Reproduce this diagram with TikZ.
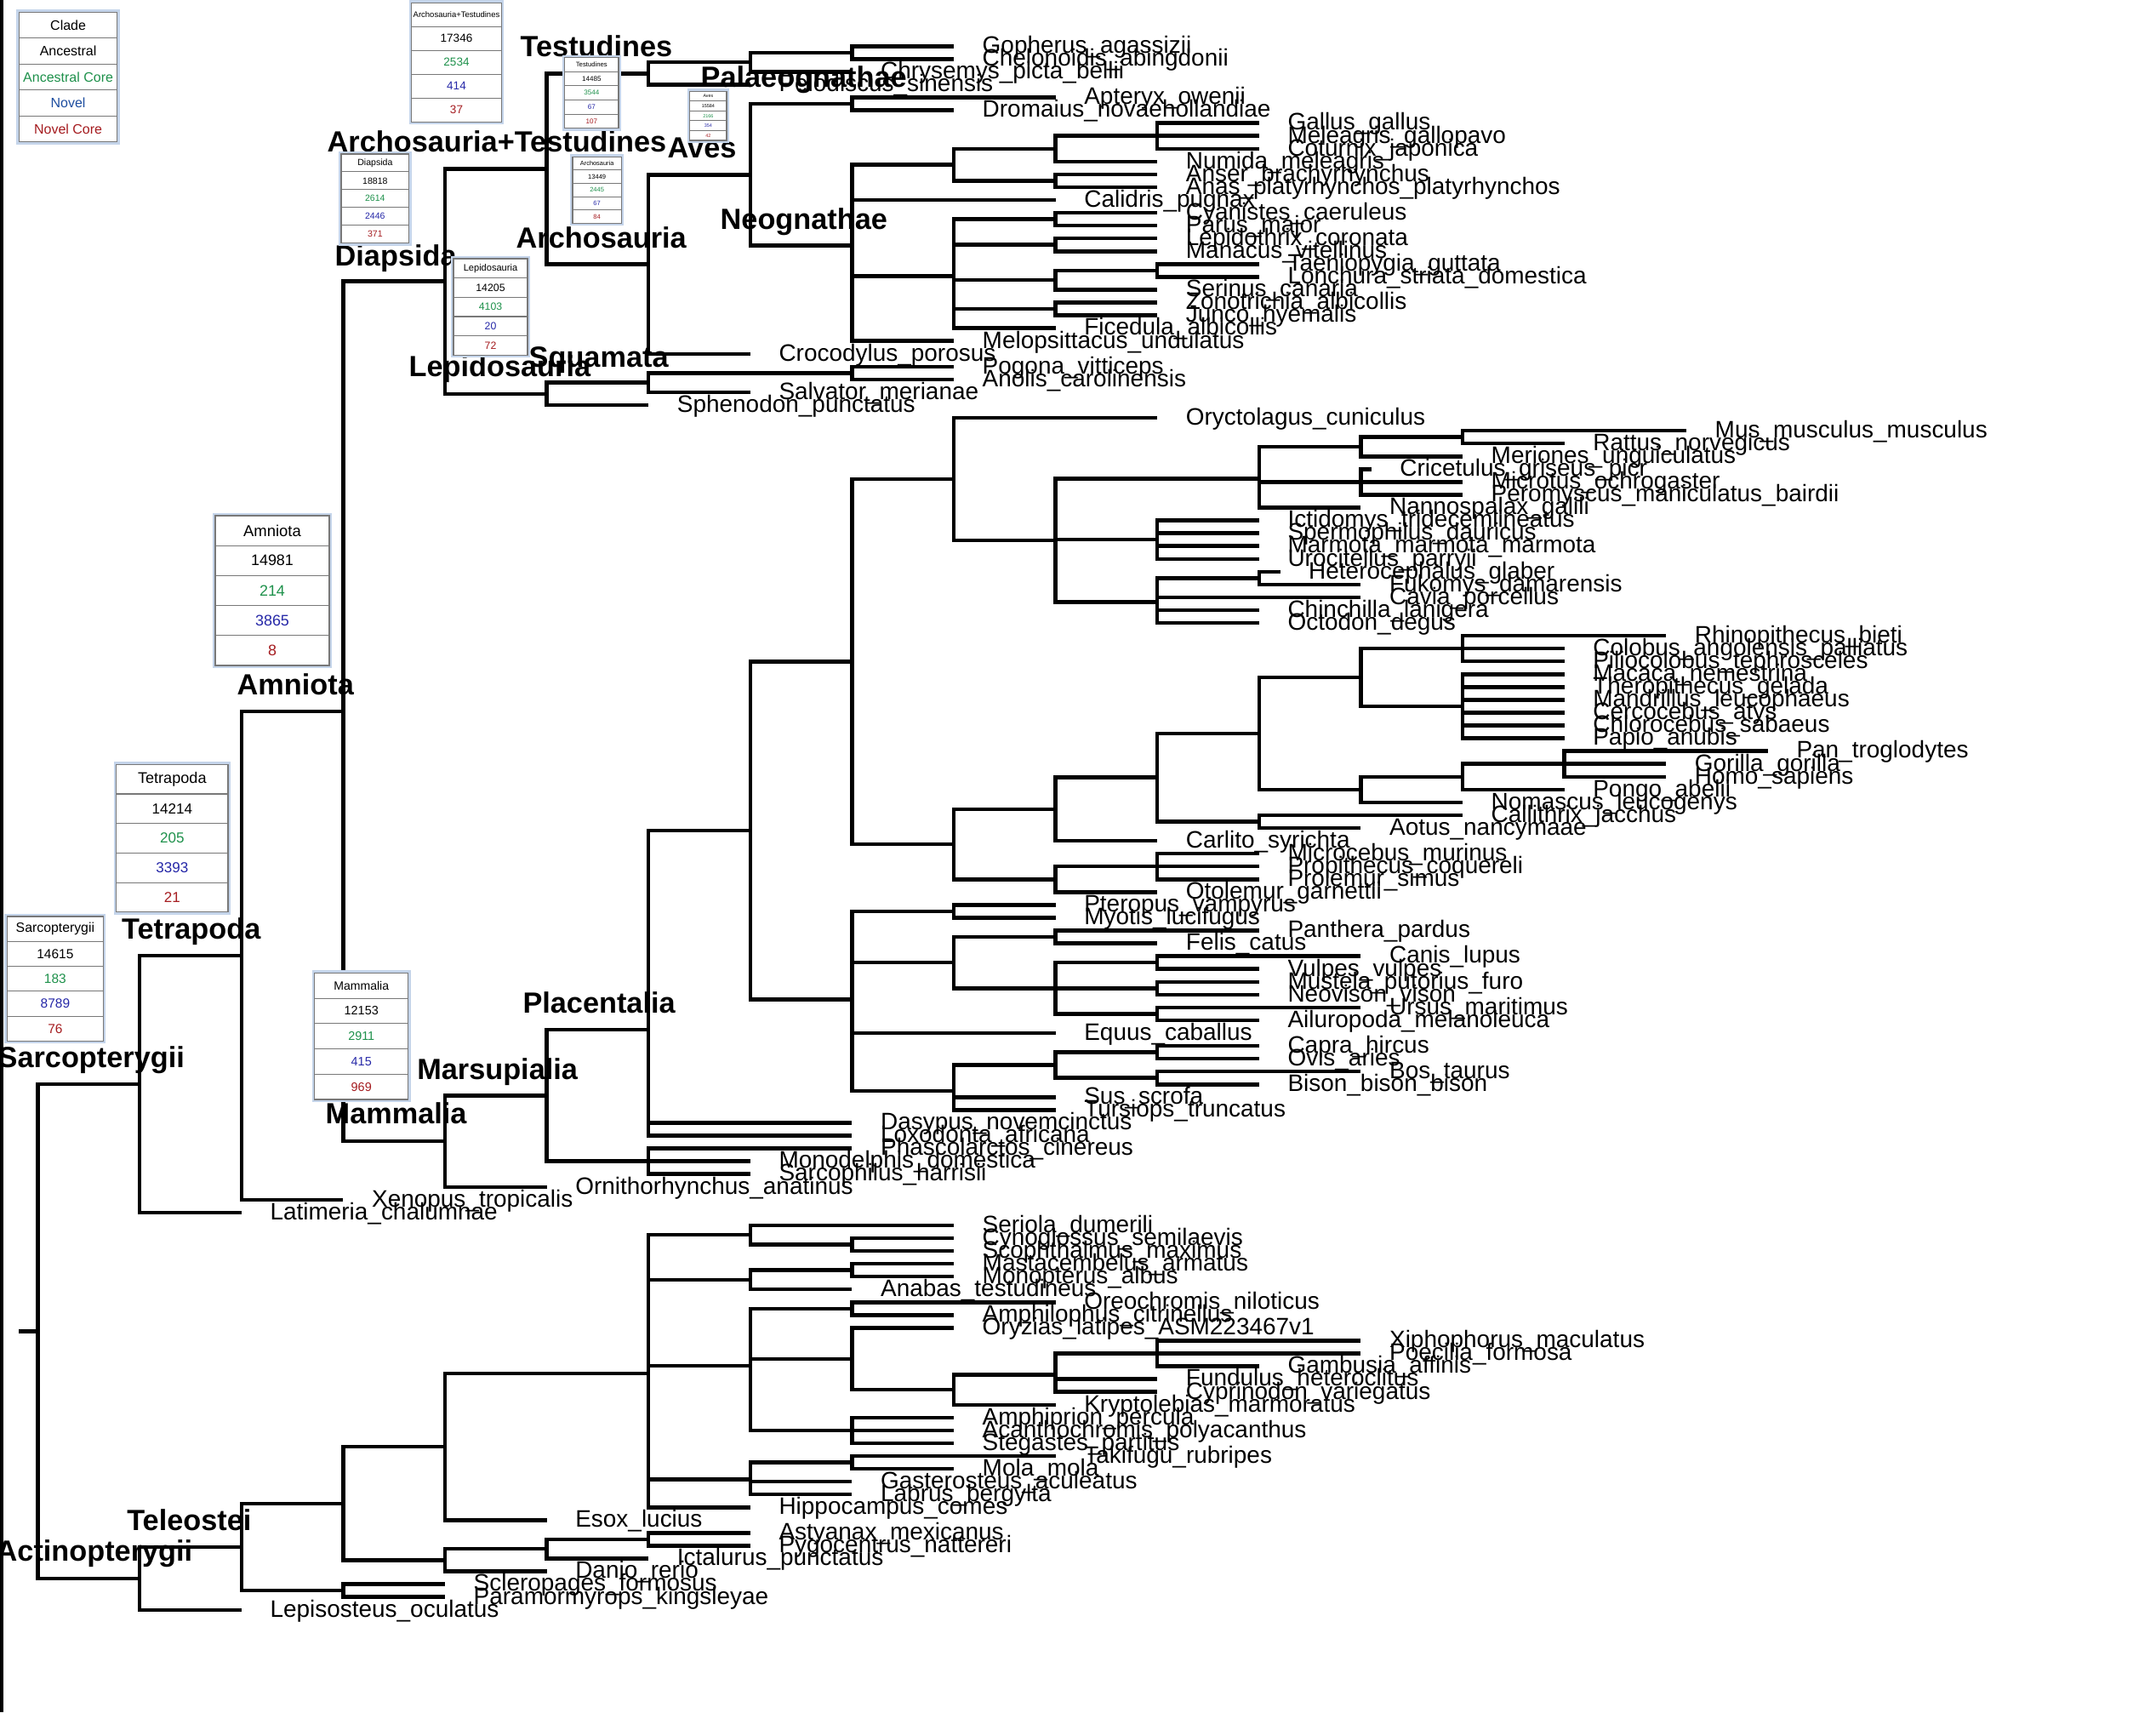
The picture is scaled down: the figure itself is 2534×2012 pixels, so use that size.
\documentclass[tikz,border=0pt]{standalone}
\usepackage{fontspec}
\setmainfont{Liberation Sans}

\definecolor{coregreen}{RGB}{30,145,75}
\definecolor{novelblue}{RGB}{38,40,168}
\definecolor{legendblue}{RGB}{30,78,160}
\definecolor{corered}{RGB}{165,28,32}
\definecolor{boxedge}{RGB}{196,212,234}
\definecolor{rowline}{RGB}{120,120,120}

% every leaf and inner node keeps its (possibly fractional) row index
\newcommand\setidx[2]{\expandafter\xdef\csname ix@#1\endcsname{#2}}
\newcommand\getidx[1]{\csname ix@#1\endcsname}

% \tip{name}{row}{x of branch end}{label}
\newcommand\tip[4]{%
  \setidx{#1}{#2}%
  \coordinate (#1) at ({#3},{ty(#2)});%
  \node[tiplabel] (#1-name) at ({#3+33},{ty(#2)+8.3}) {\detokenize{#4}};%
}

% \clade{name}{column}{children}: node sits at the mean row of its children
\newcommand\clade[3]{%
  \gdef\clsum{0}\gdef\cln{0}%
  \foreach \k in {#3}{%
    \edef\clv{\getidx{\k}}%
    \pgfmathparse{\clsum+\clv}\xdef\clsum{\pgfmathresult}%
    \pgfmathparse{\cln+1}\xdef\cln{\pgfmathresult}}%
  \pgfmathparse{\clsum/\cln}\setidx{#1}{\pgfmathresult}%
  \edef\cly{\getidx{#1}}%
  \coordinate (#1) at ({col(#2)},{ty(\cly)});%
  \foreach \k in {#3}{\draw[branch] (#1) |- (\k);}%
}

% \statbox{name}{x1}{y1}{x2}{y2}{header size}{number size}{header/all/core/novel/novel core}{novel colour}
\newcommand\statbox[9]{%
  \fill[white] (#2,#3) rectangle (#4,#5);
  \draw[boxrim] ({#2-1.6},{#3-1.6}) rectangle ({#4+1.6},{#5+1.6});
  \draw[boxframe] (#2,#3) rectangle (#4,#5);
  \foreach \row in {1,2,3,4}{\draw[rowrule] (#2,{#3+\row*(#5-#3)/5}) -- (#4,{#3+\row*(#5-#3)/5});}
  \foreach \hdr/\tot/\grn/\blu/\rdn in {#8}{%
    \node[inner sep=0pt,font=\fontsize{#6}{#6}\selectfont] (#1-head) at ({(#2+#4)/2},{#3+0.5*(#5-#3)/5}) {\hdr};
    \node[inner sep=0pt,font=\fontsize{#7}{#7}\selectfont] (#1-all) at ({(#2+#4)/2},{#3+1.5*(#5-#3)/5}) {\tot};
    \node[inner sep=0pt,font=\fontsize{#7}{#7}\selectfont,text=coregreen] (#1-core) at ({(#2+#4)/2},{#3+2.5*(#5-#3)/5}) {\grn};
    \node[inner sep=0pt,font=\fontsize{#7}{#7}\selectfont,text=#9] (#1-novel) at ({(#2+#4)/2},{#3+3.5*(#5-#3)/5}) {\blu};
    \node[inner sep=0pt,font=\fontsize{#7}{#7}\selectfont,text=corered] (#1-novelcore) at ({(#2+#4)/2},{#3+4.5*(#5-#3)/5}) {\rdn};
  }%
}

\begin{document}
\begin{tikzpicture}[x=0.01cm,y=-0.01cm,
  declare function={ty(\i)=54.3+15.061*\i; col(\k)=44.6+119.6*\k;},
  branch/.style={line width=1.28pt,line join=miter},
  tiplabel/.style={font=\fontsize{7.95}{8}\selectfont,inner sep=0pt,anchor=base west},
  cladelabel/.style={font=\fontsize{9.75}{10}\selectfont\bfseries,inner sep=0pt,anchor=base west},
  boxrim/.style={draw=boxedge,line width=0.75pt},
  boxframe/.style={draw=rowline,line width=0.34pt},
  rowrule/.style={draw=rowline,line width=0.3pt}]

\fill[white] (0,0) rectangle (2534,2012);
\useasboundingbox (0,0) rectangle (2534,2012);
\fill[black] (0,0) rectangle (4,2012);

% ---------------- Testudines ----------------
\tip{gopherus}{0}{col(9)}{Gopherus_agassizii}
\tip{chelonoidis}{1}{col(9)}{Chelonoidis_abingdonii}
\clade{testB}{8}{gopherus,chelonoidis}
\tip{chrysemys}{2}{col(8)}{Chrysemys_picta_bellii}
\clade{testA}{7}{testB,chrysemys}
\tip{pelodiscus}{3}{col(7)}{Pelodiscus_sinensis}
\clade{testudines}{6}{testA,pelodiscus}

% ---------------- Aves ----------------
\tip{apteryx}{4}{col(10)}{Apteryx_owenii}
\tip{dromaius}{5}{col(9)}{Dromaius_novaehollandiae}
\clade{palaeognathae}{8}{apteryx,dromaius}
\tip{gallus}{6}{col(12)}{Gallus_gallus}
\tip{meleagris}{7}{col(12)}{Meleagris_gallopavo}
\tip{coturnix}{8}{col(12)}{Coturnix_japonica}
\clade{phasianidae}{11}{gallus,meleagris,coturnix}
\tip{numida}{9}{col(11)}{Numida_meleagris}
\clade{galliformes}{10}{phasianidae,numida}
\tip{anser}{10}{col(11)}{Anser_brachyrhynchus}
\tip{anas}{11}{col(11)}{Anas_platyrhynchos_platyrhynchos}
\clade{anatidae}{10}{anser,anas}
\clade{galloanserae}{9}{galliformes,anatidae}
\tip{calidris}{12}{col(10)}{Calidris_pugnax}
\tip{cyanistes}{13}{col(11)}{Cyanistes_caeruleus}
\tip{parus}{14}{col(11)}{Parus_major}
\clade{paridae}{10}{cyanistes,parus}
\tip{lepidothrix}{15}{col(11)}{Lepidothrix_coronata}
\tip{manacus}{16}{col(11)}{Manacus_vitellinus}
\clade{pipridae}{10}{lepidothrix,manacus}
\tip{taeniopygia}{17}{col(12)}{Taeniopygia_guttata}
\tip{lonchura}{18}{col(12)}{Lonchura_striata_domestica}
\clade{estrildidae}{11}{taeniopygia,lonchura}
\tip{serinus}{19}{col(11)}{Serinus_canaria}
\clade{passeroidea}{10}{estrildidae,serinus}
\tip{zonotrichia}{20}{col(11)}{Zonotrichia_albicollis}
\tip{junco}{21}{col(11)}{Junco_hyemalis}
\clade{passerellidae}{10}{zonotrichia,junco}
\tip{ficedula}{22}{col(10)}{Ficedula_albicollis}
\clade{passeriformes}{9}{paridae,pipridae,passeroidea,passerellidae,ficedula}
\tip{melopsittacus}{23}{col(9)}{Melopsittacus_undulatus}
\clade{neognathae}{8}{galloanserae,calidris,passeriformes,melopsittacus}
\clade{aves}{7}{palaeognathae,neognathae}
\tip{crocodylus}{24}{col(7)}{Crocodylus_porosus}
\clade{archosauria}{6}{aves,crocodylus}
\clade{archtest}{5}{testudines,archosauria}

% ---------------- Lepidosauria ----------------
\tip{pogona}{25}{col(9)}{Pogona_vitticeps}
\tip{anolis}{26}{col(9)}{Anolis_carolinensis}
\clade{iguania}{8}{pogona,anolis}
\tip{salvator}{27}{col(7)}{Salvator_merianae}
\clade{squamata}{6}{iguania,salvator}
\tip{sphenodon}{28}{col(6)}{Sphenodon_punctatus}
\clade{lepidosauria}{5}{squamata,sphenodon}
\clade{diapsida}{4}{archtest,lepidosauria}

% ---------------- Glires ----------------
\tip{oryctolagus}{29}{col(11)}{Oryctolagus_cuniculus}
\tip{mus}{30}{1982}{Mus_musculus_musculus}
\tip{rattus}{31}{col(15)}{Rattus_norvegicus}
\clade{murinae}{14}{mus,rattus}
\tip{meriones}{32}{col(14)}{Meriones_unguiculatus}
\clade{muridae}{13}{murinae,meriones}
\tip{cricetulus}{33}{1611.6}{Cricetulus_griseus_picr}
\tip{microtus}{34}{col(14)}{Microtus_ochrogaster}
\tip{peromyscus}{35}{col(14)}{Peromyscus_maniculatus_bairdii}
\clade{cricetidae}{13}{cricetulus,microtus,peromyscus}
\tip{nannospalax}{36}{col(13)}{Nannospalax_galili}
\clade{muroidea}{12}{muridae,cricetidae,nannospalax}
\tip{ictidomys}{37}{col(12)}{Ictidomys_tridecemlineatus}
\tip{spermophilus}{38}{col(12)}{Spermophilus_dauricus}
\tip{marmota}{39}{col(12)}{Marmota_marmota_marmota}
\tip{urocitellus}{40}{col(12)}{Urocitellus_parryii}
\clade{sciuridae}{11}{ictidomys,spermophilus,marmota,urocitellus}
\tip{heterocephalus}{41}{1504.5}{Heterocephalus_glaber}
\tip{fukomys}{42}{col(13)}{Fukomys_damarensis}
\clade{bathyergidae}{12}{heterocephalus,fukomys}
\tip{cavia}{43}{col(13)}{Cavia_porcellus}
\tip{chinchilla}{44}{col(12)}{Chinchilla_lanigera}
\tip{octodon}{45}{col(12)}{Octodon_degus}
\clade{hystricomorpha}{11}{bathyergidae,cavia,chinchilla,octodon}
\clade{rodentia}{10}{muroidea,sciuridae,hystricomorpha}
\clade{glires}{9}{oryctolagus,rodentia}

% ---------------- Primates ----------------
\tip{rhinopithecus}{46}{col(16)}{Rhinopithecus_bieti}
\tip{colobus}{47}{col(15)}{Colobus_angolensis_palliatus}
\tip{piliocolobus}{48}{col(15)}{Piliocolobus_tephrosceles}
\clade{colobinae}{14}{rhinopithecus,colobus,piliocolobus}
\tip{macaca}{49}{col(15)}{Macaca_nemestrina}
\tip{theropithecus}{50}{col(15)}{Theropithecus_gelada}
\tip{mandrillus}{51}{col(15)}{Mandrillus_leucophaeus}
\tip{cercocebus}{52}{col(15)}{Cercocebus_atys}
\tip{chlorocebus}{53}{col(15)}{Chlorocebus_sabaeus}
\tip{papio}{54}{col(15)}{Papio_anubis}
\clade{cercopithecinae}{14}{macaca,theropithecus,mandrillus,cercocebus,chlorocebus,papio}
\clade{cercopithecidae}{13}{colobinae,cercopithecinae}
\tip{pan}{55}{col(17)}{Pan_troglodytes}
\tip{gorilla}{56}{col(16)}{Gorilla_gorilla}
\tip{homo}{57}{col(16)}{Homo_sapiens}
\clade{homininae}{15}{pan,gorilla,homo}
\tip{pongo}{58}{col(15)}{Pongo_abelii}
\clade{hominidae}{14}{homininae,pongo}
\tip{nomascus}{59}{col(14)}{Nomascus_leucogenys}
\clade{hominoidea}{13}{hominidae,nomascus}
\clade{catarrhini}{12}{cercopithecidae,hominoidea}
\tip{callithrix}{60}{col(14)}{Callithrix_jacchus}
\tip{aotus}{61}{col(13)}{Aotus_nancymaae}
\clade{platyrrhini}{12}{callithrix,aotus}
\clade{anthropoidea}{11}{catarrhini,platyrrhini}
\tip{carlito}{62}{col(11)}{Carlito_syrichta}
\clade{haplorhini}{10}{anthropoidea,carlito}
\tip{microcebus}{63}{col(12)}{Microcebus_murinus}
\tip{propithecus}{64}{col(12)}{Propithecus_coquereli}
\tip{prolemur}{65}{col(12)}{Prolemur_simus}
\clade{lemuriformes}{11}{microcebus,propithecus,prolemur}
\tip{otolemur}{66}{col(11)}{Otolemur_garnettii}
\clade{strepsirrhini}{10}{lemuriformes,otolemur}
\clade{euarchonta}{9}{haplorhini,strepsirrhini}
\clade{euarchontoglires}{8}{glires,euarchonta}

% ---------------- Laurasiatheria ----------------
\tip{pteropus}{67}{col(10)}{Pteropus_vampyrus}
\tip{myotis}{68}{col(10)}{Myotis_lucifugus}
\clade{chiroptera}{9}{pteropus,myotis}
\tip{panthera}{69}{col(12)}{Panthera_pardus}
\tip{felis}{70}{col(11)}{Felis_catus}
\clade{felidae}{10}{panthera,felis}
\tip{canis}{71}{col(13)}{Canis_lupus}
\tip{vulpes}{72}{col(12)}{Vulpes_vulpes}
\clade{canidae}{11}{canis,vulpes}
\tip{mustela}{73}{col(12)}{Mustela_putorius_furo}
\tip{neovison}{74}{col(12)}{Neovison_vison}
\clade{mustelidae}{11}{mustela,neovison}
\tip{ursus}{75}{col(13)}{Ursus_maritimus}
\tip{ailuropoda}{76}{col(12)}{Ailuropoda_melanoleuca}
\clade{ursidae}{11}{ursus,ailuropoda}
\clade{caniformia}{10}{canidae,mustelidae,ursidae}
\clade{carnivora}{9}{felidae,caniformia}
\tip{equus}{77}{col(10)}{Equus_caballus}
\tip{capra}{78}{col(12)}{Capra_hircus}
\tip{ovis}{79}{col(12)}{Ovis_aries}
\clade{caprinae}{11}{capra,ovis}
\tip{bos}{80}{col(13)}{Bos_taurus}
\tip{bison}{81}{col(12)}{Bison_bison_bison}
\clade{bovini}{11}{bos,bison}
\clade{ruminantia}{10}{caprinae,bovini}
\tip{sus}{82}{col(10)}{Sus_scrofa}
\tip{tursiops}{83}{col(10)}{Tursiops_truncatus}
\clade{cetartiodactyla}{9}{ruminantia,sus,tursiops}
\clade{laurasiatheria}{8}{chiroptera,carnivora,equus,cetartiodactyla}
\clade{boreoeutheria}{7}{euarchontoglires,laurasiatheria}
\tip{dasypus}{84}{col(8)}{Dasypus_novemcinctus}
\tip{loxodonta}{85}{col(8)}{Loxodonta_africana}
\clade{placentalia}{6}{boreoeutheria,dasypus,loxodonta}
\tip{phascolarctos}{86}{col(8)}{Phascolarctos_cinereus}
\tip{monodelphis}{87}{col(7)}{Monodelphis_domestica}
\tip{sarcophilus}{88}{col(7)}{Sarcophilus_harrisii}
\clade{marsupialia}{6}{phascolarctos,monodelphis,sarcophilus}
\clade{theria}{5}{placentalia,marsupialia}
\tip{ornithorhynchus}{89}{col(5)}{Ornithorhynchus_anatinus}
\clade{mammalia}{4}{theria,ornithorhynchus}
\clade{amniota}{3}{diapsida,mammalia}
\tip{xenopus}{90}{col(3)}{Xenopus_tropicalis}
\clade{tetrapoda}{2}{amniota,xenopus}
\tip{latimeria}{91}{col(2)}{Latimeria_chalumnae}
\clade{sarcopterygii}{1}{tetrapoda,latimeria}

% ---------------- Actinopterygii ----------------
\tip{seriola}{92}{col(9)}{Seriola_dumerili}
\tip{cynoglossus}{93}{col(9)}{Cynoglossus_semilaevis}
\tip{scophthalmus}{94}{col(9)}{Scophthalmus_maximus}
\clade{pleuronectiformes}{8}{cynoglossus,scophthalmus}
\clade{carangaria}{7}{seriola,pleuronectiformes}
\tip{mastacembelus}{95}{col(9)}{Mastacembelus_armatus}
\tip{monopterus}{96}{col(9)}{Monopterus_albus}
\clade{synbranchiformes}{8}{mastacembelus,monopterus}
\tip{anabas}{97}{col(8)}{Anabas_testudineus}
\clade{anabantaria}{7}{synbranchiformes,anabas}
\tip{oreochromis}{98}{col(10)}{Oreochromis_niloticus}
\tip{amphilophus}{99}{col(9)}{Amphilophus_citrinellus}
\clade{cichlidae}{8}{oreochromis,amphilophus}
\tip{oryzias}{100}{col(9)}{Oryzias_latipes_ASM223467v1}
\tip{xiphophorus}{101}{col(13)}{Xiphophorus_maculatus}
\tip{poecilia}{102}{col(13)}{Poecilia_formosa}
\tip{gambusia}{103}{col(12)}{Gambusia_affinis}
\clade{poeciliidae}{11}{xiphophorus,poecilia,gambusia}
\tip{fundulus}{104}{col(11)}{Fundulus_heteroclitus}
\tip{cyprinodon}{105}{col(11)}{Cyprinodon_variegatus}
\clade{cyprinodontoidei}{10}{poeciliidae,fundulus,cyprinodon}
\tip{kryptolebias}{106}{col(10)}{Kryptolebias_marmoratus}
\clade{cyprinodontiformes}{9}{cyprinodontoidei,kryptolebias}
\clade{atherinomorpha}{8}{oryzias,cyprinodontiformes}
\tip{amphiprion}{107}{col(9)}{Amphiprion_percula}
\tip{acanthochromis}{108}{col(9)}{Acanthochromis_polyacanthus}
\tip{stegastes}{109}{col(9)}{Stegastes_partitus}
\clade{pomacentridae}{8}{amphiprion,acanthochromis,stegastes}
\clade{ovalentaria}{7}{cichlidae,atherinomorpha,pomacentridae}
\tip{takifugu}{110}{col(10)}{Takifugu_rubripes}
\tip{mola}{111}{col(9)}{Mola_mola}
\clade{tetraodontiformes}{8}{takifugu,mola}
\tip{gasterosteus}{112}{col(8)}{Gasterosteus_aculeatus}
\tip{labrus}{113}{col(8)}{Labrus_bergylta}
\clade{eupercaria}{7}{tetraodontiformes,gasterosteus,labrus}
\tip{hippocampus}{114}{col(7)}{Hippocampus_comes}
\clade{acanthomorpha}{6}{carangaria,anabantaria,ovalentaria,eupercaria,hippocampus}
\tip{esox}{115}{col(5)}{Esox_lucius}
\clade{euteleostei}{4}{acanthomorpha,esox}
\tip{astyanax}{116}{col(7)}{Astyanax_mexicanus}
\tip{pygocentrus}{117}{col(7)}{Pygocentrus_nattereri}
\clade{characiformes}{6}{astyanax,pygocentrus}
\tip{ictalurus}{118}{col(6)}{Ictalurus_punctatus}
\clade{otophysi}{5}{characiformes,ictalurus}
\tip{danio}{119}{col(5)}{Danio_rerio}
\clade{otomorpha}{4}{otophysi,danio}
\clade{clupeocephala}{3}{euteleostei,otomorpha}
\tip{scleropages}{120}{col(4)}{Scleropages_formosus}
\tip{paramormyrops}{121}{col(4)}{Paramormyrops_kingsleyae}
\clade{osteoglossomorpha}{3}{scleropages,paramormyrops}
\clade{teleostei}{2}{clupeocephala,osteoglossomorpha}
\tip{lepisosteus}{122}{col(2)}{Lepisosteus_oculatus}
\clade{actinopterygii}{1}{teleostei,lepisosteus}

% ---------------- root ----------------
\clade{root}{0}{sarcopterygii,actinopterygii}
\coordinate (root-stem) at (22,{ty(\getidx{root})});
\draw[branch] (root-stem) -- (root);

% ---------------- clade names ----------------
\node[cladelabel] (lab-testudines) at (611,67) {Testudines};
\node[cladelabel] (lab-archtest) at (384,178) {Archosauria+Testudines};
\node[cladelabel] (lab-aves) at (784,185) {Aves};
\node[cladelabel] (lab-palaeognathae) at (823,102) {Palaeognathae};
\node[cladelabel] (lab-neognathae) at (846,269.5) {Neognathae};
\node[cladelabel] (lab-archosauria) at (606,291) {Archosauria};
\node[cladelabel] (lab-diapsida) at (393,312) {Diapsida};
\node[cladelabel] (lab-squamata) at (621,431) {Squamata};
\node[cladelabel] (lab-lepidosauria) at (480,442.5) {Lepidosauria};
\node[cladelabel] (lab-amniota) at (278,816) {Amniota};
\node[cladelabel] (lab-tetrapoda) at (142.4,1103) {Tetrapoda};
\node[cladelabel] (lab-sarcopterygii) at (-3,1254) {Sarcopterygii};
\node[cladelabel] (lab-placentalia) at (613.8,1190.5) {Placentalia};
\node[cladelabel] (lab-marsupialia) at (489.6,1268) {Marsupialia};
\node[cladelabel] (lab-mammalia) at (382,1320.5) {Mammalia};
\node[cladelabel] (lab-teleostei) at (148.6,1798) {Teleostei};
\node[cladelabel] (lab-actinopterygii) at (-5,1834) {Actinopterygii};

% ---------------- gene count tables ----------------
\statbox{legend}{22.4}{14.3}{137.8}{166.7}{4.55}{4.55}{Clade/Ancestral/Ancestral Core/Novel/Novel Core}{legendblue}
\statbox{tb-archtest}{483.7}{3.3}{589.3}{143.3}{2.7}{3.85}{Archosauria+Testudines/17346/2534/414/37}{novelblue}
\statbox{tb-testudines}{663.7}{67.7}{727}{150.7}{2.2}{2.3}{Testudines/14485/3544/67/107}{novelblue}
\statbox{tb-aves}{810.7}{107.3}{854}{165}{1.5}{1.55}{Aves/15584/2166/354/42}{novelblue}
\statbox{tb-archosauria}{673}{184.3}{730.3}{262.3}{2.1}{2.15}{Archosauria/13449/2445/67/84}{novelblue}
\statbox{tb-diapsida}{401}{181}{480.7}{285.7}{3.0}{3.0}{Diapsida/18818/2614/2446/371}{novelblue}
\statbox{tb-lepidosauria}{533}{304}{620}{417.3}{3.15}{3.5}{Lepidosauria/14205/4103/20/72}{novelblue}
\statbox{tb-amniota}{253}{606}{387}{782}{5.25}{5.1}{Amniota/14981/214/3865/8}{novelblue}
\statbox{tb-tetrapoda}{136.7}{898.3}{267.9}{1071.7}{5.15}{4.85}{Tetrapoda/14214/205/3393/21}{novelblue}
\statbox{tb-sarcopterygii}{8.4}{1077}{121.4}{1223.3}{4.5}{4.4}{Sarcopterygii/14615/183/8789/76}{novelblue}
\statbox{tb-mammalia}{369.7}{1143.3}{479.8}{1292}{4.0}{4.1}{Mammalia/12153/2911/415/969}{novelblue}

\end{tikzpicture}
\end{document}
